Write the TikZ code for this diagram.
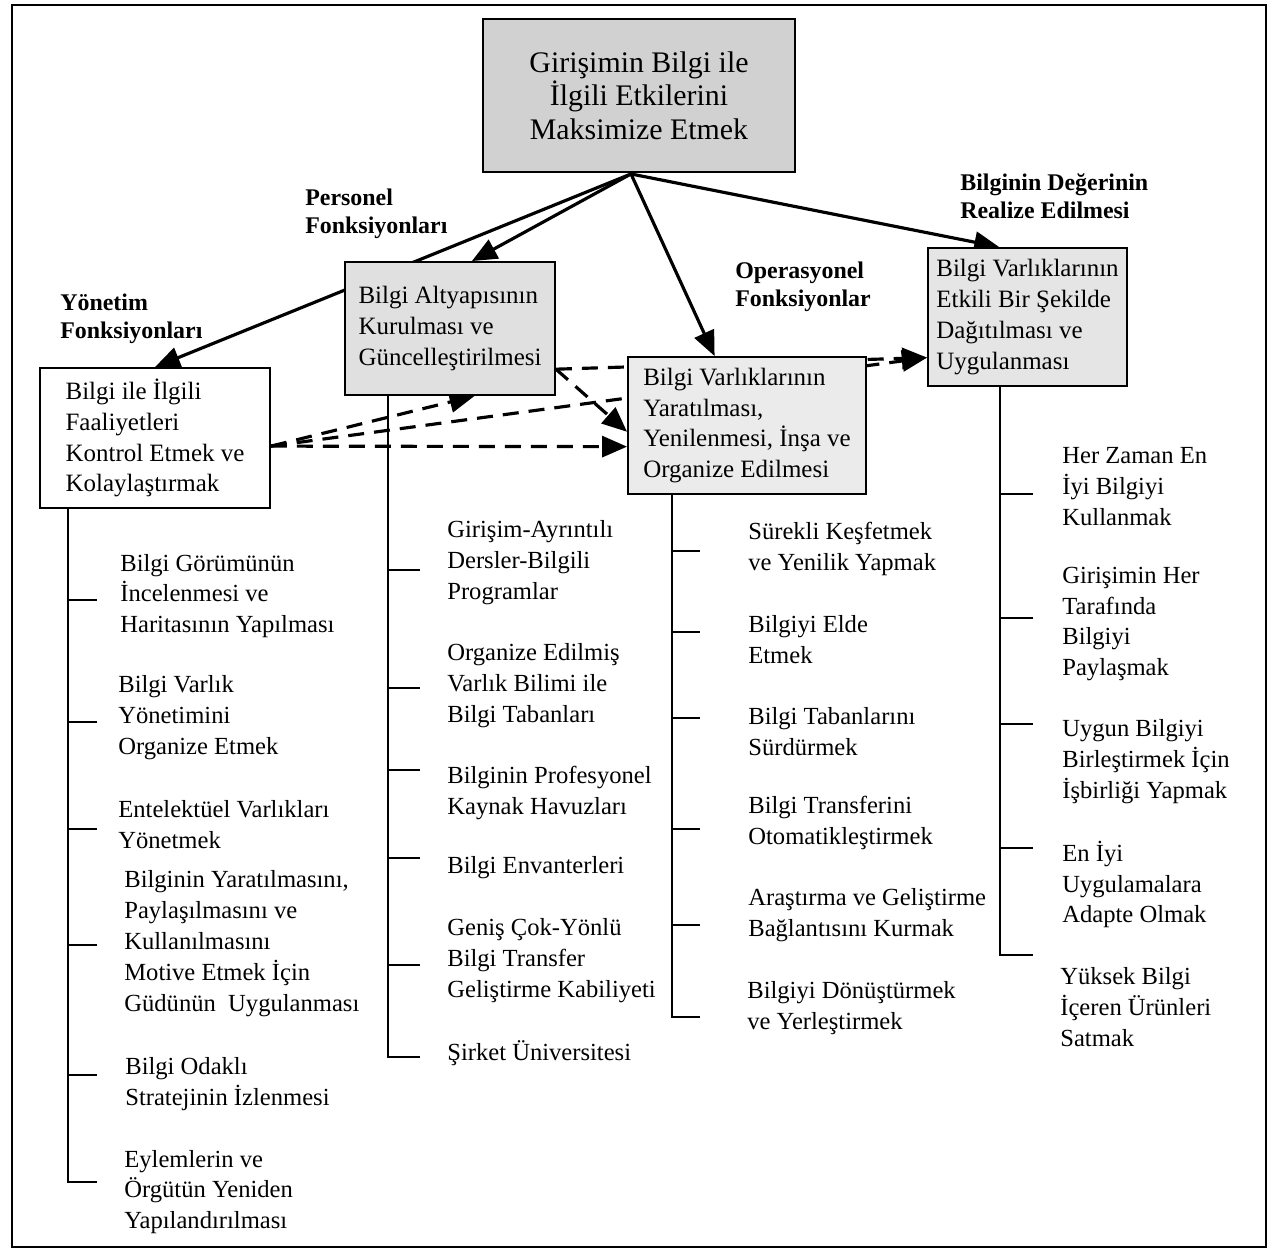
\documentclass[tikz,border=0pt]{standalone}
\usepackage{fontspec}
\setmainfont{Liberation Serif}
\usetikzlibrary{backgrounds}
\usetikzlibrary{positioning, calc, arrows.meta}
\tikzset{box/.style={draw, line width=1.1pt, align=left, inner sep=0pt, font=\fontsize{14.2}{17.6}\selectfont}}
\tikzset{topbox/.style={box, align=center, fill=black!18, font=\fontsize{17}{19}\selectfont}}
\tikzset{listitem/.style={anchor=west, align=left, inner sep=0pt, font=\fontsize{14}{17.6}\selectfont}}
\tikzset{funcname/.style={anchor=west, align=left, inner sep=0pt, font=\fontsize{13.6}{16}\selectfont\bfseries}}
\tikzset{flow/.style={line width=1.8pt, -{Triangle[length=0.5cm,width=0.42cm]}}}
\tikzset{link/.style={flow, dash pattern=on 0.32cm off 0.2cm}}
\tikzset{tree/.style={line width=0.85pt}}

\begin{document}
\begin{tikzpicture}[x=0.02cm, y=-0.02cm]
      \useasboundingbox (0,0) rectangle (1269,1258);
      \draw[line width=1.1pt] (12,5) rectangle (1266,1247);

      \node[topbox, minimum width=6.24cm, minimum height=3.06cm] (top) at (639,95.5)
        {Girişimin Bilgi ile\\İlgili Etkilerini\\Maksimize Etmek};
      \coordinate (hub) at ($(top.south)+(-8,1)$);

      \node[box, fill=white, minimum width=4.6cm, minimum height=2.8cm] (yon) at (155,438)
        {Bilgi ile İlgili\\Faaliyetleri\\Kontrol Etmek ve\\Kolaylaştırmak};
      \node[box, fill=black!12, minimum width=4.2cm, minimum height=2.66cm] (pers) at (450,328.5)
        {Bilgi Altyapısının\\Kurulması ve\\Güncelleştirilmesi};
      \node[box, fill=black!8, minimum width=4.76cm, minimum height=2.74cm] (oper) at (747,425.5)
        {Bilgi Varlıklarının\\Yaratılması,\\Yenilenmesi, İnşa ve\\Organize Edilmesi};
      \node[box, fill=black!10, minimum width=3.98cm, minimum height=2.76cm] (real) at (1027.5,317)
        {Bilgi Varlıklarının\\Etkili Bir Şekilde\\Dağıtılması ve\\Uygulanması};

      \node[funcname] (yonl) at (60,319) {Yönetim\\Fonksiyonları};
      \node[funcname] (persl) at (305,214) {Personel\\Fonksiyonları};
      \node[funcname] (operl) at (735,286.5) {Operasyonel\\Fonksiyonlar};
      \node[funcname] (reall) at (960,196) {Bilginin Değerinin\\Realize Edilmesi};

      \coordinate (yout) at (yon.-4);
      \coordinate (pout) at (pers.-21);
      \begin{scope}[on background layer]
        \draw[flow] (hub) -- (yon.north);
        \draw[flow] (hub) -- (pers.72);
        \draw[flow] (hub) -- (oper.115);
        \draw[flow] (hub) -- (real.112);
        \draw[link] (yout) -- (oper.190);
        \draw[link] (yout) -- (pers.-70);
        \draw[link] (yout) -- (real.202);
        \draw[link] (pout) -- (real.202);
        \draw[link] (pout) -- (oper.183);
      \end{scope}

      % Yonetim Fonksiyonlari
      \node[listitem] (y1) at (120,596) {Bilgi Görümünün\\İncelenmesi ve\\Haritasının Yapılması};
      \node[listitem] (y2) at (118,717.5) {Bilgi Varlık\\Yönetimini\\Organize Etmek};
      \node[listitem] (y3) at (118,825) {Entelektüel Varlıkları\\Yönetmek};
      \node[listitem] (y4) at (124,943.5) {Bilginin Yaratılmasını,\\Paylaşılmasını ve\\Kullanılmasını\\Motive Etmek İçin\\Güdünün~ Uygulanması};
      \node[listitem] (y5) at (125,1084) {Bilgi Odaklı\\Stratejinin İzlenmesi};
      \node[listitem] (y6) at (124,1192) {Eylemlerin ve\\Örgütün Yeniden\\Yapılandırılması};
      \coordinate (ycorner) at (68,1182);
      \foreach \i/\yy in {1/600, 2/722, 3/829, 4/945, 5/1075, 6/1182}
        \coordinate (ytip\i) at (97,\yy);
      \draw[tree] (yon.south -| ycorner) -- (ycorner) -- (ytip6);
      \foreach \i in {1,...,5}
        \draw[tree] (ycorner |- ytip\i) -- (ytip\i);

      % Personel Fonksiyonlari
      \node[listitem] (p1) at (447,563) {Girişim-Ayrıntılı\\Dersler-Bilgili\\Programlar};
      \node[listitem] (p2) at (447,686) {Organize Edilmiş\\Varlık Bilimi ile\\Bilgi Tabanları};
      \node[listitem] (p3) at (447,793) {Bilginin Profesyonel\\Kaynak Havuzları};
      \node[listitem] (p4) at (447,868) {Bilgi Envanterleri};
      \node[listitem] (p5) at (447,961) {Geniş Çok-Yönlü\\Bilgi Transfer\\Geliştirme Kabiliyeti};
      \node[listitem] (p6) at (447,1053) {Şirket Üniversitesi};
      \coordinate (pcorner) at (388,1057);
      \foreach \i/\yy in {1/570, 2/688, 3/770, 4/858, 5/965, 6/1057}
        \coordinate (ptip\i) at (420,\yy);
      \draw[tree] (pers.south -| pcorner) -- (pcorner) -- (ptip6);
      \foreach \i in {1,...,5}
        \draw[tree] (pcorner |- ptip\i) -- (ptip\i);

      % Operasyonel Fonksiyonlar
      \node[listitem] (o1) at (748,548.5) {Sürekli Keşfetmek\\ve Yenilik Yapmak};
      \node[listitem] (o2) at (748,640) {Bilgiyi Elde\\Etmek};
      \node[listitem] (o3) at (748,732) {Bilgi Tabanlarını\\Sürdürmek};
      \node[listitem] (o4) at (748,823) {Bilgi Transferini\\Otomatikleştirmek};
      \node[listitem] (o5) at (748,915) {Araştırma ve Geliştirme\\Bağlantısını Kurmak};
      \node[listitem] (o6) at (747,1008) {Bilgiyi Dönüştürmek\\ve Yerleştirmek};
      \coordinate (ocorner) at (672,1017);
      \foreach \i/\yy in {1/551, 2/632, 3/718, 4/829, 5/925, 6/1017}
        \coordinate (otip\i) at (700,\yy);
      \draw[tree] (oper.south -| ocorner) -- (ocorner) -- (otip6);
      \foreach \i in {1,...,5}
        \draw[tree] (ocorner |- otip\i) -- (otip\i);

      % Bilginin Degerinin Realize Edilmesi
      \node[listitem] (r1) at (1062,486.5) {Her Zaman En\\İyi Bilgiyi\\Kullanmak};
      \node[listitem] (r2) at (1062,624) {Girişimin Her\\Tarafında\\Bilgiyi\\Paylaşmak};
      \node[listitem] (r3) at (1062,761.5) {Uygun Bilgiyi\\Birleştirmek İçin\\İşbirliği Yapmak};
      \node[listitem] (r4) at (1062,884.5) {En İyi\\Uygulamalara\\Adapte Olmak};
      \node[listitem] (r5) at (1060,1007) {Yüksek Bilgi\\İçeren Ürünleri\\Satmak};
      \coordinate (rcorner) at (1000,955);
      \foreach \i/\yy in {1/494, 2/618, 3/724, 4/848, 5/955}
        \coordinate (rtip\i) at (1033,\yy);
      \draw[tree] (real.south -| rcorner) -- (rcorner) -- (rtip5);
      \foreach \i in {1,...,4}
        \draw[tree] (rcorner |- rtip\i) -- (rtip\i);
    \end{tikzpicture}
\end{document}
